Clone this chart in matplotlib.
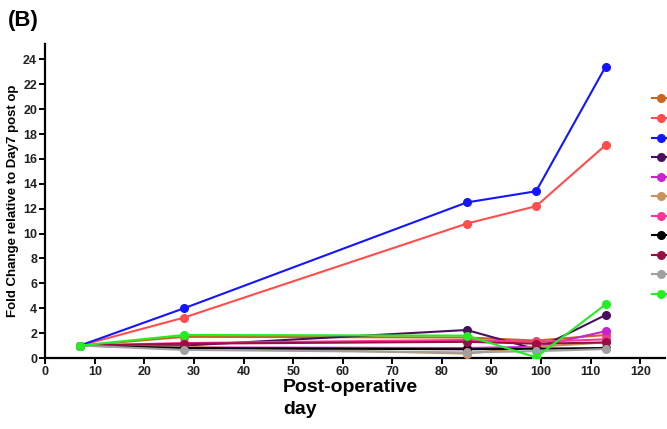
import matplotlib
matplotlib.use("Agg")
import matplotlib.pyplot as plt
from matplotlib.lines import Line2D

plt.rcParams["font.family"] = ["Liberation Sans", "DejaVu Sans"]

days = [7, 28, 85, 99, 113]
orange = [1.0, 1.7, 1.65, 1.4, 1.85]
red = [1.0, 3.25, 10.8, 12.2, 17.1]
blue = [1.0, 4.0, 12.5, 13.4, 23.4]
purple = [1.0, 1.0, 2.25, 0.7, 3.45]
magenta = [1.0, 0.85, 0.8, 0.9, 2.15]
tan = [1.0, 0.9, 0.35, 0.9, 1.25]
pink = [1.0, 1.2, 1.45, 1.3, 1.5]
black = [1.0, 0.8, 0.7, 0.75, 0.8]
maroon = [1.0, 1.15, 1.3, 1.15, 1.25]
gray = [1.0, 0.65, 0.45, 0.55, 0.72]
green = [1.0, 1.85, 1.8, 0.05, 4.3]

series = [orange, red, blue, purple, magenta, tan, pink, black, maroon, gray, green]
colors = ["#C8661C", "#FF4D4D", "#1414FF", "#4A0E5E", "#CC22CC", "#C8915A",
          "#FF3399", "#000000", "#990F45", "#A0A0A0", "#22EE22"]

fig = plt.figure(figsize=(6.67, 4.29), dpi=100)
ax = fig.add_axes([0.068, 0.1655, 0.929, 0.731])

for vals, c in zip(series, colors):
    ax.plot(days, vals, color=c, lw=1.5, marker="o", ms=5.5, zorder=3)

ax.set_xlim(0, 125)
ax.set_ylim(0, 25.2)
ax.set_xticks(range(0, 121, 10))
ax.set_yticks(range(0, 25, 2))
for s in ["top", "right"]:
    ax.spines[s].set_visible(False)
for s in ["left", "bottom"]:
    ax.spines[s].set_linewidth(1.6)
ax.tick_params(axis="both", direction="out", length=4, width=1.4, labelsize=9, pad=2)
for lbl in ax.get_xticklabels() + ax.get_yticklabels():
    lbl.set_fontweight("bold")
    lbl.set_color("#222222")

ax.set_ylabel("Fold Change relative to Day7 post op", fontsize=9.5, fontweight="bold", labelpad=3)
fig.text(0.424, 0.071, "Post-operative\nday", fontsize=14, fontweight="bold",
         ha="left", va="center", linespacing=1.35)
fig.text(0.012, 0.952, "(B)", fontsize=16, fontweight="bold", ha="left", va="center")

handles = [Line2D([0], [0], color=c, lw=1.5, marker="o", ms=5.5) for c in colors]
fig.legend(handles, [" "] * len(handles), loc="upper left",
           bbox_to_anchor=(0.977, 0.78), frameon=False, handlelength=1.6,
           handletextpad=0.2, labelspacing=0.86, fontsize=8, borderaxespad=0,
           borderpad=0)

fig.savefig("out.png", dpi=100)
